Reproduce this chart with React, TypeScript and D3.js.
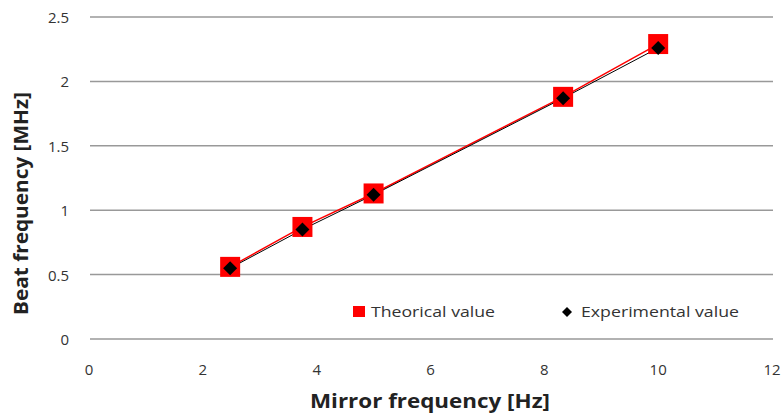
import React from 'react';
import * as d3 from 'd3';

const mirrorFreq = [2.48, 3.75, 5, 8.33, 10];
const theoretical = [0.56, 0.87, 1.13, 1.88, 2.29];
const experimental = [0.55, 0.85, 1.12, 1.87, 2.26];
const xTicks = [0, 2, 4, 6, 8, 10, 12];
const yTicks = [0, 0.5, 1, 1.5, 2, 2.5];

const W = 783;
const H = 414;
const FONT = '"Open Sans", "Noto Sans", sans-serif';

export default function App() {
    const x = d3.scaleLinear().domain([0, 12]).range([89, 772]);
    const y = d3.scaleLinear().domain([0, 2.5]).range([339, 17]);

    const line = d3
        .line<[number, number]>()
        .x((d) => x(d[0]))
        .y((d) => y(d[1]));

    const theoPts = mirrorFreq.map((f, i) => [f, theoretical[i]] as [number, number]);
    const expPts = mirrorFreq.map((f, i) => [f, experimental[i]] as [number, number]);

    const diamond = (cx: number, cy: number, r: number) =>
        `M${cx},${cy - r}L${cx + r},${cy}L${cx},${cy + r}L${cx - r},${cy}Z`;

    return (
        <svg
            width={W}
            height={H}
            style={{ position: 'absolute', left: 0, top: 0, background: '#fff' }}
            fontFamily={FONT}
        >
            {/* grid */}
            {yTicks.map((t) => (
                <line key={t} x1={90} x2={773} y1={y(t)} y2={y(t)} stroke="#999" strokeWidth={1.5} />
            ))}
            {yTicks.map((t) => (
                <text key={t} x={69} y={y(t) + 6} textAnchor="end" fontSize={15} fill="#333">
                    {t}
                </text>
            ))}
            {xTicks.map((t) => (
                <text key={t} x={x(t)} y={375} textAnchor="middle" fontSize={15} fill="#333">
                    {t}
                </text>
            ))}

            {/* series */}
            <path d={line(theoPts)!} fill="none" stroke="#f00" strokeWidth={1.5} />
            <path d={line(expPts)!} fill="none" stroke="#000" strokeWidth={1} />
            {theoPts.map((p, i) => (
                <rect key={i} x={x(p[0]) - 10} y={y(p[1]) - 10} width={20} height={20} fill="#f00" />
            ))}
            {expPts.map((p, i) => (
                <path key={i} d={diamond(x(p[0]), y(p[1]), 7)} fill="#000" />
            ))}

            {/* legend */}
            <rect x={353} y={306} width={12} height={11} fill="#f00" />
            <text x={371} y={317} fontSize={15} fill="#333" textLength={124} lengthAdjust="spacingAndGlyphs">
                Theorical value
            </text>
            <path d={diamond(567, 312, 5)} fill="#000" />
            <text x={581} y={317} fontSize={15} fill="#333" textLength={158} lengthAdjust="spacingAndGlyphs">
                Experimental value
            </text>

            {/* axis titles */}
            <text x={310} y={408} fontSize={19} fontWeight={700} fill="#222" textLength={240} lengthAdjust="spacingAndGlyphs">
                Mirror frequency [Hz]
            </text>
            <text
                transform={`translate(28,315) rotate(-90)`}
                fontSize={19}
                fontWeight={700}
                fill="#222"
                textLength={223}
                lengthAdjust="spacingAndGlyphs"
            >
                Beat frequency [MHz]
            </text>
        </svg>
    );
}
